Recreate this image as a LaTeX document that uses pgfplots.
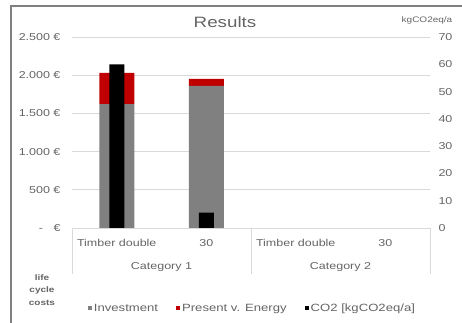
\documentclass[border=0pt]{standalone}
\usepackage{fontspec}
\setmainfont{Liberation Sans}[FakeStretch=1.25]
\usepackage{pgfplots}
\pgfplotsset{compat=1.18}
\definecolor{inv}{RGB}{128,128,128}
\definecolor{pve}{RGB}{192,0,0}
\definecolor{txt}{RGB}{100,100,100}
\definecolor{gridc}{RGB}{217,217,217}
\begin{document}
\begin{tikzpicture}[x=1pt,y=1pt]
\useasboundingbox (0,0) rectangle (462,323);
\draw[gray,line width=1.5pt] (11,0) -- (11,317) -- (462,317);
\node[text=txt,font=\fontsize{15}{16}\selectfont] at (225,301) {Results};
\node[text=txt,font=\fontsize{8}{9}\selectfont] at (427,303) {kgCO2eq/a};
\node[text=txt,font=\bfseries\fontsize{8}{12.5}\selectfont,align=center] at (42,33) {life\\cycle\\costs};
\begin{axis}[
  at={(72pt,95pt)}, anchor=south west,
  scale only axis, width=358pt, height=191pt,
  clip=false,
  xmin=-0.5, xmax=3.5, ymin=0, ymax=2500,
  ybar stacked, bar width=35pt,
  xtick={0,1,2,3}, xticklabels={Timber double,30,Timber double,30},
  ytick={0,500,1000,1500,2000,2500},
  yticklabels={{-\ \ \ €},{500 €},{1.000 €},{1.500 €},{2.000 €},{2.500 €}},
  ymajorgrids, grid style={gridc, line width=0.8pt},
  axis line style={draw=none}, major tick length=0pt,
  tick label style={font=\fontsize{10}{10}\selectfont, text=txt},
  yticklabel style={xshift=-8pt},
  xticklabel style={yshift=-8pt, font=\fontsize{10}{10}\selectfont},
  legend style={at={(0.504,-0.42)}, anchor=center, draw=none, fill=none,
    legend columns=3, font=\fontsize{10.5}{10}\selectfont, text=txt,
    /tikz/every even column/.append style={column sep=16pt},
    legend cell align=left},
  legend image code/.code={\fill[#1] (0.5pt,-2pt) rectangle (4.5pt,2pt);},
]
\addplot[fill=inv, draw=none] coordinates {(0,1620) (1,1860)};
\addplot[fill=pve, draw=none] coordinates {(0,410) (1,93)};
\addlegendimage{fill=black, draw=none}
\legend{Investment, Present v. Energy, {CO2 [kgCO2eq/a]}}
\draw[gridc, line width=0.8pt] (rel axis cs:0,0) -- (rel axis cs:1,0);
\draw[gridc, line width=0.8pt] (axis cs:-0.5,0) -- ++(0pt,-46pt);
\draw[gridc, line width=0.8pt] (axis cs:1.5,0) -- ++(0pt,-46pt);
\draw[gridc, line width=0.8pt] (axis cs:3.5,0) -- ++(0pt,-46pt);
\node[text=txt,font=\fontsize{10}{10}\selectfont] at ([yshift=-39pt]axis cs:0.5,0) {Category 1};
\node[text=txt,font=\fontsize{10}{10}\selectfont] at ([yshift=-39pt]axis cs:2.5,0) {Category 2};
\end{axis}
\begin{axis}[
  at={(72pt,95pt)}, anchor=south west,
  scale only axis, width=358pt, height=191pt,
  xmin=-0.5, xmax=3.5, ymin=0, ymax=70,
  ybar, bar width=15pt, bar shift=0pt,
  axis x line=none, axis y line*=right,
  axis line style={draw=none}, major tick length=0pt,
  ytick={0,10,...,70},
  /pgf/number format/assume math mode=true,
  tick label style={font=\fontsize{10}{10}\selectfont, text=txt},
  yticklabel style={xshift=5pt},
]
\addplot[fill=black, draw=none] coordinates {(0,60) (1,5.6)};
\end{axis}
\end{tikzpicture}
\end{document}
